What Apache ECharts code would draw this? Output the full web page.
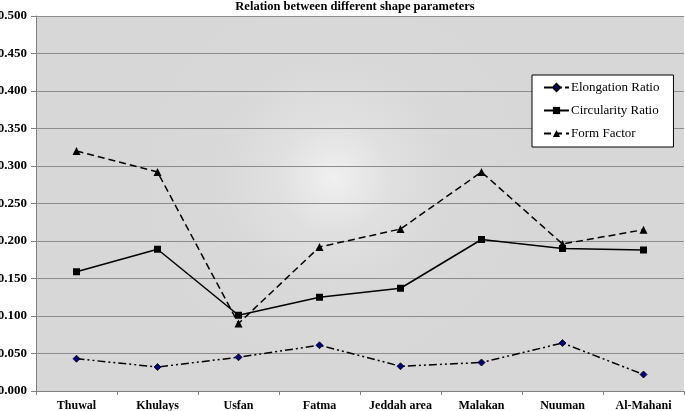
<!DOCTYPE html>
<html>
<head>
<meta charset="utf-8">
<script src="https://cdn.jsdelivr.net/npm/echarts@6/dist/echarts.min.js"></script>
<style>html,body{margin:0;padding:0;background:#fff;}#c{width:685px;height:411px;}</style>
</head>
<body>
<div id="c"></div>
<script>
var categories = ['Thuwal', 'Khulays', 'Usfan', 'Fatma', 'Jeddah area', 'Malakan', 'Nuuman', 'Al-Mahani'];
var elongationRatio = [0.043, 0.032, 0.045, 0.061, 0.033, 0.038, 0.064, 0.022];
var circularityRatio = [0.159, 0.189, 0.101, 0.125, 0.137, 0.202, 0.190, 0.188];
var formFactor = [0.320, 0.292, 0.090, 0.192, 0.216, 0.292, 0.196, 0.215];
var yTicks = { min: 0, max: 0.5, interval: 0.05 };

var FONT = '"Liberation Serif", "Times New Roman", serif';
var chart = echarts.init(document.getElementById('c'), null, { renderer: 'canvas' });
chart.setOption({
  animation: false,
  backgroundColor: '#ffffff',
  title: {
    text: 'Relation between different shape parameters',
    left: 355, textAlign: 'center', top: 0, padding: 0,
    textStyle: { fontFamily: FONT, fontWeight: 'bold', fontSize: 12.5, color: '#000' }
  },
  grid: {
    left: 36, right: 1, top: 16, bottom: 20, show: true, borderWidth: 0,
    containLabel: false, outerBoundsMode: 'none',
    backgroundColor: {
      type: 'radial', x: 0.46, y: 0.43, r: 0.5,
      colorStops: [
        { offset: 0, color: '#f0f0f0' },
        { offset: 0.3, color: '#e0e0e0' },
        { offset: 0.6, color: '#d9d9d9' },
        { offset: 1, color: '#d7d7d7' }
      ]
    }
  },
  legend: {
    orient: 'vertical', left: 532, top: 75,
    backgroundColor: '#ffffff', borderColor: '#000', borderWidth: 1,
    padding: [6, 14, 7, 11], itemWidth: 25, itemHeight: 9, itemGap: 10,
    textStyle: { fontFamily: FONT, fontSize: 13, color: '#000', padding: [0, 0, 0, -3] },
    data: ['Elongation Ratio', 'Circularity Ratio', 'Form Factor']
  },
  xAxis: {
    type: 'category', data: categories, boundaryGap: true,
    axisLine: { lineStyle: { color: '#808080', width: 1 } },
    axisTick: { show: true, length: 4, lineStyle: { color: '#808080' } },
    axisLabel: { fontFamily: FONT, fontWeight: 'bold', fontSize: 12, color: '#000', margin: 9, interval: 0 },
    splitLine: { show: false }
  },
  yAxis: {
    type: 'value', min: yTicks.min, max: yTicks.max, interval: yTicks.interval,
    axisLine: { show: true, lineStyle: { color: '#808080', width: 1 } },
    axisTick: { show: true, length: 5, lineStyle: { color: '#808080' } },
    axisLabel: { fontFamily: FONT, fontWeight: 'bold', fontSize: 13, color: '#000', margin: 9,
      formatter: function (v) { return v.toFixed(3); } },
    splitLine: { show: true, lineStyle: { color: '#8c8c8c', width: 1 } }
  },
  series: [
    {
      name: 'Elongation Ratio', type: 'line', data: elongationRatio,
      symbol: 'diamond', symbolSize: 7,
      itemStyle: { color: '#000080', borderColor: '#000', borderWidth: 0.8 },
      lineStyle: { color: '#000', width: 1.5, type: [8, 3, 2, 3, 2, 3] }
    },
    {
      name: 'Circularity Ratio', type: 'line', data: circularityRatio,
      symbol: 'rect', symbolSize: 7,
      itemStyle: { color: '#000' },
      lineStyle: { color: '#000', width: 1.5, type: 'solid' }
    },
    {
      name: 'Form Factor', type: 'line', data: formFactor,
      symbol: 'triangle', symbolSize: 8,
      itemStyle: { color: '#000' },
      lineStyle: { color: '#000', width: 1.5, type: [7, 4] }
    }
  ]
});
</script>
</body>
</html>
